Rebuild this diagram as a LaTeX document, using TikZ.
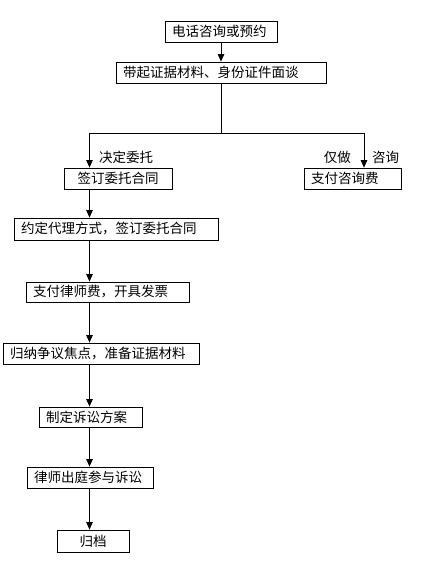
\documentclass[tikz,border=0pt]{standalone}
\usepackage{fontspec}
\setmainfont{Noto Sans CJK SC}
\usetikzlibrary{arrows.meta}
\begin{document}
\begin{tikzpicture}[x=1pt,y=-1pt,
  box/.style={draw,line width=0.8pt,inner sep=0pt,minimum height=21pt,font=\fontsize{13.5}{14}\selectfont},
  lbox/.style={box,align=left,inner xsep=7pt},
  lbl/.style={font=\fontsize{13.5}{14}\selectfont,inner sep=0pt},
  arr/.style={line width=0.8pt,-{Triangle[width=6.5pt,length=7.5pt]}},
  ln/.style={line width=0.8pt}]
\useasboundingbox (0,0) rectangle (446,570);
\node[lbox,text width=98pt,minimum height=21pt] (b1) at (221,31.5) {电话咨询或预约};
\node[lbox,text width=196pt] (b2) at (221,72.5) {带起证据材料、身份证件面谈};
\node[box,minimum width=108pt] (b3) at (118,178.5) {签订委托合同};
\node[lbox,text width=83pt] (b4) at (352.5,178.5) {支付咨询费};
\node[lbox,text width=190pt,minimum height=22pt] (b5) at (116,229) {约定代理方式，签订委托合同};
\node[lbox,text width=149pt,minimum height=20pt] (b6) at (107.5,292) {支付律师费，开具发票};
\node[lbox,text width=182pt] (b7) at (101,353.5) {归纳争议焦点，准备证据材料};
\node[lbox,text width=89pt,minimum height=20pt] (b8) at (90.5,417) {制定诉讼方案};
\node[lbox,text width=112pt] (b9) at (90,477.5) {律师出庭参与诉讼};
\node[box,minimum width=72pt,minimum height=22pt] (b10) at (93,541) {归档};
\coordinate (j) at (221,133);
\coordinate (jl) at (89.5,133);
\coordinate (jr) at (364,133);
\draw[arr] (b1.south) -- (b2.north);
\draw[ln] (b2.south) -- (j);
\draw[arr] (j) -- (jl) -- (b3.north -| jl);
\draw[arr] (j) -- (jr) -- (b4.north -| jr);
\draw[arr] (b3.south -| jl) -- (b5.north -| jl);
\draw[arr] (b5.south -| jl) -- (b6.north -| jl);
\draw[arr] (b6.south -| jl) -- (b7.north -| jl);
\draw[arr] (b7.south -| jl) -- (b8.north -| jl);
\draw[arr] (b8.south -| jl) -- (b9.north -| jl);
\draw[arr] (b9.south -| jl) -- (b10.north -| jl);
\node[lbl,anchor=west] (l1) at (99,157) {决定委托};
\node[lbl,anchor=east] (l2) at (351,157) {仅做};
\node[lbl,anchor=west] (l3) at (372,157) {咨询};
\end{tikzpicture}
\end{document}
